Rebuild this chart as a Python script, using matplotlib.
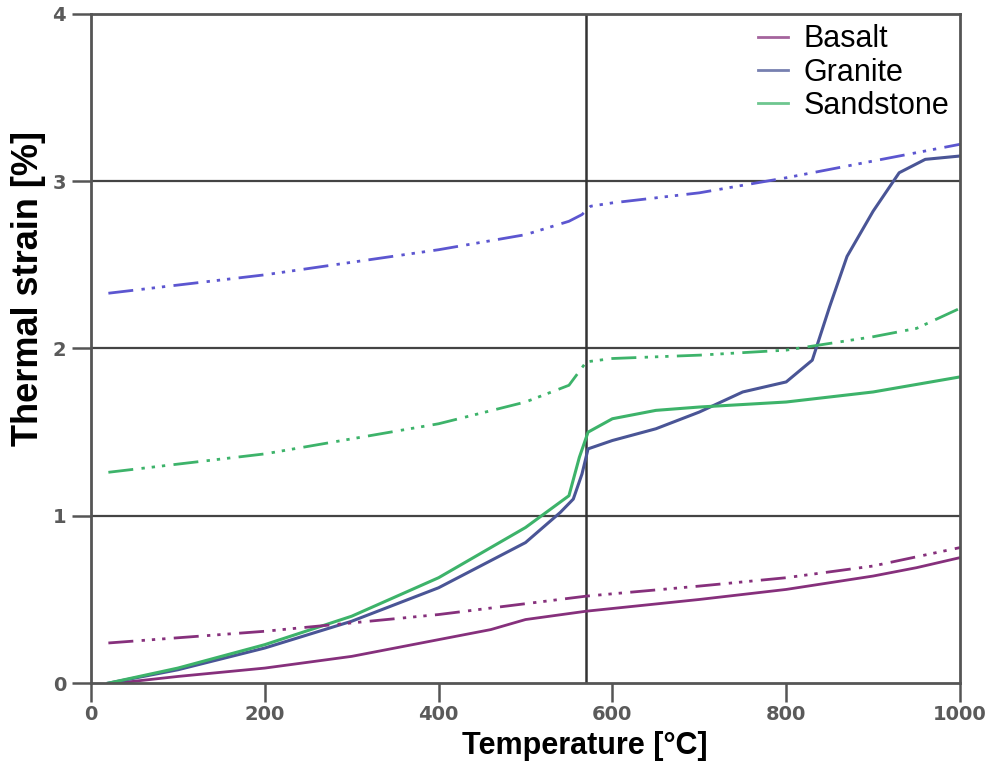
import matplotlib
matplotlib.use("Agg")
import matplotlib.pyplot as plt

plt.rcParams['font.family'] = ['Liberation Sans', 'DejaVu Sans']

# Measured (solid) curves
basalt_T = [30, 100, 200, 300, 400, 460, 500, 570, 700, 800, 900, 950, 1000]
basalt_s = [0.0, 0.04, 0.09, 0.16, 0.26, 0.32, 0.38, 0.43, 0.50, 0.56, 0.64, 0.69, 0.75]

granite_T = [20, 100, 200, 300, 400, 500, 540, 555, 565, 572, 600, 650, 700, 750, 800, 830, 850, 870, 900, 930, 960, 1000]
granite_s = [0.0, 0.08, 0.21, 0.37, 0.57, 0.84, 1.02, 1.10, 1.25, 1.40, 1.45, 1.52, 1.62, 1.74, 1.80, 1.93, 2.25, 2.55, 2.82, 3.05, 3.13, 3.15]

sand_T = [20, 100, 200, 300, 400, 500, 550, 562, 572, 600, 650, 700, 800, 900, 1000]
sand_s = [0.0, 0.09, 0.23, 0.40, 0.63, 0.93, 1.12, 1.35, 1.50, 1.58, 1.63, 1.65, 1.68, 1.74, 1.83]

# Model (dash-dot-dot) curves
basalt_m_T = [20, 200, 400, 570, 700, 800, 900, 1000]
basalt_m_s = [0.24, 0.31, 0.41, 0.52, 0.58, 0.63, 0.70, 0.81]

granite_m_T = [20, 200, 400, 500, 550, 565, 575, 600, 700, 800, 900, 1000]
granite_m_s = [2.33, 2.44, 2.59, 2.68, 2.76, 2.80, 2.85, 2.87, 2.93, 3.02, 3.12, 3.22]

sand_m_T = [20, 200, 400, 500, 550, 570, 600, 700, 800, 900, 950, 1000]
sand_m_s = [1.26, 1.37, 1.55, 1.68, 1.78, 1.92, 1.94, 1.96, 1.99, 2.07, 2.12, 2.24]

labels = ["Basalt", "Granite", "Sandstone"]
c_basalt = "#86307c"
c_granite = "#4a5596"
c_sand = "#3db36a"
c_granite_m = "#5c56d0"

fig = plt.figure(figsize=(10, 7.65), dpi=100)
ax = fig.add_axes([0.091, 0.107, 0.869, 0.875])

dd = (0, (9, 3, 1.2, 2.5, 1.2, 2.5, 1.2, 3))
ax.plot(basalt_T, basalt_s, color=c_basalt, lw=2, label=labels[0])
ax.plot(granite_T, granite_s, color=c_granite, lw=2.2, label=labels[1])
ax.plot(sand_T, sand_s, color=c_sand, lw=2.2, label=labels[2])
ax.plot(basalt_m_T, basalt_m_s, color=c_basalt, lw=2, linestyle=dd)
ax.plot(granite_m_T, granite_m_s, color=c_granite_m, lw=2, linestyle=dd)
ax.plot(sand_m_T, sand_m_s, color=c_sand, lw=2, linestyle=dd)

ax.set_xlim(0, 1000)
ax.set_ylim(0, 4)
ax.set_xticks([0, 200, 400, 600, 800, 1000])
ax.set_yticks([0, 1, 2, 3, 4])
for y in [1, 2, 3]:
    ax.axhline(y, color="#444444", lw=1.6, zorder=0)
ax.axvline(570, color="#333333", lw=1.8, zorder=0)

for sp in ax.spines.values():
    sp.set_color("#555555")
    sp.set_linewidth(2)
ax.tick_params(direction='out', length=14, width=1.8, color="#555555",
               labelsize=14, labelcolor="#5a5a5a", pad=4)
ax.tick_params(axis='x', pad=2)
for lab in ax.get_xticklabels() + ax.get_yticklabels():
    lab.set_fontweight('bold')
    lab.set_family('DejaVu Sans')

ax.set_xlabel("Temperature [°C]", fontsize=22, fontweight='bold')
ax.xaxis.set_label_coords(0.568, -0.072)
ax.set_ylabel("Thermal strain [%]", fontsize=26, fontweight='bold')
ax.yaxis.set_label_coords(-0.052, 0.59)

leg = ax.legend(loc='upper right', frameon=False, fontsize=22, handlelength=1.0,
                handletextpad=0.5, labelspacing=0.1, borderaxespad=0.15,
                borderpad=0.2)
for h in leg.get_lines():
    h.set_linewidth(2)
    h.set_alpha(0.75)

fig.savefig("out.png", dpi=100)
